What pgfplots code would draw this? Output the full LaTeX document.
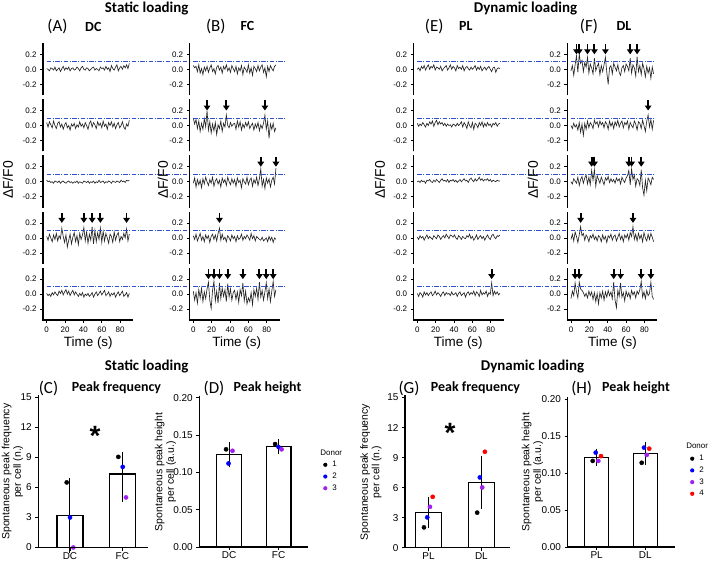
\documentclass[border=0pt]{standalone}
\usepackage{pgfplots}
\pgfplotsset{compat=1.18}
\usepackage{fontspec}
\setmainfont{Liberation Sans}
\newfontfamily\calib{Carlito}
\usetikzlibrary{arrows.meta}
\definecolor{bl}{RGB}{50,80,200}
\definecolor{dpurple}{RGB}{160,32,240}
\newcommand{\myfs}[1]{\fontsize{#1}{#1}\selectfont}
\pgfplotsset{
 trbase/.style={scale only axis, width=90bp, height=52.1bp, xmin=-4, xmax=94, ymin=-0.345, ymax=0.35, clip=false,
   axis y line*=left, axis x line*=bottom, ytick={-0.2,0,0.2}, yticklabels={-0.2,0.0,0.2},
   tick align=outside, major tick length=3bp, axis line style={line width=1.6bp, black},
   tick style={line width=0.8bp, black}, tick label style={font=\myfs{8}}},
 trhid/.style={trbase, x axis line style={draw=none}, xtick=\empty},
 trxax/.style={trbase, xtick={0,20,40,60,80}, xticklabels={0,20,40,60,80}},
 myaxl/.style={black, line width=1.6bp, line join=miter, forget plot, mark=none},
 myaxb/.style={black, line width=1.3bp, line join=miter, forget plot, mark=none},
 mytrl/.style={black!85, line width=0.65bp},
 mybll/.style={bl, line width=0.9bp, dash pattern=on 4.5bp off 1.5bp on 1bp off 1.5bp},
 myarr/.style={black, line width=1.8bp, -{Triangle[length=5bp,width=6.5bp]}, quiver={u=0,v=-0.135}},
 bpbase/.style={scale only axis, axis lines*=left, axis line style={line width=1.3bp, black}, tick align=outside,
   major tick length=3bp, tick style={line width=0.9bp, black}, tick label style={font=\myfs{10}},
   xtick={1,2}, ymin=0, clip=false, xticklabel style={inner sep=1.5bp}},
 mybar/.style={ybar, bar width=0.5, fill=white, draw=black, line width=1.2bp,
   error bars/y dir=both, error bars/y explicit, error bars/error bar style={line width=1bp, black},
   error bars/error mark options={line width=1bp, black, mark size=5bp}},
 mydot/.style={only marks, mark=*, mark size=2.1bp, draw=none, fill=#1, color=#1,
   legend image code/.code={\fill[#1] (0,0) circle (2.1bp);}},
 freqy/.style={ymax=15.2, height=152.2bp, ytick={0,3,6,9,12,15}, yticklabels={0,3,6,9,12,15}},
 hty/.style={ymax=0.203, ytick={0,0.05,0.1,0.15,0.2}, yticklabels={0.00,0.05,0.10,0.15,0.20}},
 myleg/.style={legend style={at={#1}, anchor=north west, draw=none, fill=none, font=\myfs{8}, inner sep=0pt,
   row sep=0pt, nodes={minimum height=11.7bp, inner sep=0pt}, cells={anchor=west},
   /tikz/every odd column/.append style={column sep=5bp}}},
}
\newcommand{\trace}[1]{\addplot[mytrl] table[row sep=\\, header=false, x expr=\coordindex*1.5, y index=0]{#1};}
\newcommand{\yaxisline}{\addplot[myaxl] coordinates {(-4,-0.345) (-4,0.35)};}
\newcommand{\xyaxisline}{\addplot[myaxl] coordinates {(-4,0.35) (-4,-0.345) (94,-0.345)};}
\begin{document}
\begin{tikzpicture}
\useasboundingbox (0,0) rectangle (709bp,564bp);
% ---------------- Column A (DC)
\begin{axis}[trhid, at={(43bp,468.8bp)}]
\yaxisline
\trace{0.01\\0.00\\-0.02\\0.02\\0.01\\-0.01\\0.03\\-0.02\\0.00\\0.02\\-0.03\\0.01\\0.04\\-0.01\\0.02\\0.00\\0.03\\-0.02\\0.01\\0.02\\-0.01\\0.00\\0.03\\0.01\\-0.02\\0.02\\0.04\\0.00\\-0.01\\0.02\\0.01\\-0.02\\0.00\\0.02\\0.03\\-0.01\\0.01\\0.00\\-0.02\\0.03\\0.01\\0.02\\-0.01\\0.04\\0.00\\0.02\\-0.03\\0.05\\0.01\\-0.01\\0.03\\0.06\\-0.02\\0.02\\0.04\\0.00\\0.05\\0.02\\0.06\\0.01\\0.08\\}
\addplot[mybll] coordinates {(0,0.1) (154,0.1)};
\end{axis}
\begin{axis}[trhid, at={(43bp,412.6bp)}]
\yaxisline
\trace{0.04\\-0.02\\0.05\\0.01\\-0.03\\0.06\\0.00\\-0.04\\0.03\\0.05\\-0.02\\0.02\\-0.05\\0.01\\0.04\\-0.03\\0.00\\-0.06\\0.02\\-0.01\\0.03\\-0.04\\0.01\\-0.02\\0.05\\-0.01\\0.02\\-0.03\\0.04\\0.00\\-0.05\\0.03\\0.06\\-0.02\\0.04\\0.01\\-0.04\\0.05\\0.00\\0.03\\-0.03\\0.06\\-0.01\\0.02\\-0.05\\0.04\\0.00\\0.05\\-0.02\\0.03\\-0.04\\0.01\\0.04\\-0.03\\0.00\\0.05\\-0.02\\-0.05\\0.02\\-0.01\\0.07\\}
\addplot[mybll] coordinates {(0,0.1) (154,0.1)};
\end{axis}
\begin{axis}[trhid, at={(43bp,356.4bp)}]
\yaxisline
\trace{0.02\\0.00\\0.01\\-0.01\\0.00\\-0.02\\0.01\\0.00\\-0.01\\0.01\\-0.02\\0.00\\0.01\\-0.01\\-0.02\\0.00\\0.01\\-0.01\\0.00\\-0.02\\0.00\\-0.01\\0.01\\-0.02\\0.00\\-0.01\\-0.02\\0.01\\0.00\\-0.01\\0.01\\-0.02\\0.00\\-0.01\\0.01\\-0.02\\0.00\\-0.01\\0.02\\-0.01\\0.00\\0.01\\-0.02\\0.00\\-0.01\\0.01\\0.00\\-0.02\\0.01\\0.00\\-0.01\\0.01\\0.00\\-0.01\\0.02\\0.00\\0.01\\-0.01\\0.02\\0.01\\0.02\\}
\addplot[mybll] coordinates {(0,0.1) (154,0.1)};
\end{axis}
\begin{axis}[trhid, at={(43bp,300.2bp)}]
\yaxisline
\trace{0.02\\-0.03\\0.05\\0.00\\-0.05\\0.04\\-0.02\\0.06\\-0.04\\0.03\\-0.01\\0.13\\0.02\\-0.06\\0.04\\-0.12\\-0.03\\0.05\\-0.08\\0.01\\0.07\\-0.05\\0.03\\-0.09\\0.06\\-0.02\\0.04\\0.14\\-0.04\\0.08\\-0.07\\0.05\\-0.03\\0.15\\-0.08\\0.10\\-0.05\\0.07\\-0.02\\0.13\\-0.06\\0.09\\-0.04\\0.06\\0.00\\-0.07\\0.05\\0.02\\-0.06\\0.08\\-0.03\\0.04\\0.07\\-0.05\\0.02\\-0.02\\0.06\\0.00\\0.12\\-0.04\\0.05\\}
\addplot[mybll] coordinates {(0,0.1) (154,0.1)};
\addplot[myarr] coordinates {(16.5,0.335) (40.5,0.335) (49.5,0.335) (58.5,0.335) (87,0.335)};
\end{axis}
\begin{axis}[trxax, at={(43bp,244bp)}]
\xyaxisline
\trace{0.01\\-0.02\\0.00\\-0.03\\0.02\\-0.01\\0.03\\0.00\\-0.02\\0.04\\0.01\\0.05\\-0.01\\0.03\\0.06\\0.00\\0.04\\-0.02\\0.02\\0.05\\-0.01\\0.03\\0.00\\-0.03\\0.01\\-0.02\\0.02\\-0.04\\0.00\\-0.02\\0.01\\-0.03\\-0.01\\0.02\\-0.04\\0.00\\0.03\\-0.02\\0.01\\0.04\\-0.01\\0.02\\0.05\\-0.02\\0.00\\0.03\\-0.03\\0.01\\-0.01\\0.02\\-0.04\\0.00\\0.03\\-0.02\\0.01\\0.04\\-0.03\\-0.01\\0.02\\-0.04\\0.01\\}
\addplot[mybll] coordinates {(0,0.1) (154,0.1)};
\end{axis}
% ---------------- Column B (FC)
\begin{axis}[trhid, at={(189.6bp,468.8bp)}]
\yaxisline
\trace{0.05\\0.02\\0.04\\-0.03\\0.06\\-0.05\\0.01\\-0.07\\0.03\\-0.02\\0.04\\-0.04\\0.02\\0.06\\-0.03\\0.01\\-0.06\\0.03\\0.05\\-0.01\\0.03\\-0.05\\0.04\\0.00\\0.06\\-0.02\\0.02\\-0.04\\0.05\\0.01\\-0.03\\0.04\\-0.06\\0.02\\-0.02\\0.05\\-0.07\\0.03\\0.00\\-0.04\\0.06\\-0.05\\0.02\\-0.08\\0.04\\0.01\\-0.03\\0.05\\-0.02\\0.03\\0.06\\-0.04\\0.02\\-0.10\\0.04\\-0.03\\0.05\\0.01\\-0.02\\0.04\\0.06\\}
\addplot[mybll] coordinates {(0,0.1) (100,0.1)};
\end{axis}
\begin{axis}[trhid, at={(189.6bp,412.6bp)}]
\yaxisline
\trace{0.10\\0.02\\0.08\\-0.04\\0.06\\-0.08\\0.03\\-0.05\\0.09\\-0.02\\0.20\\-0.06\\0.05\\-0.10\\0.02\\-0.07\\0.04\\-0.12\\0.01\\-0.04\\0.06\\-0.08\\0.03\\-0.02\\0.14\\0.00\\-0.03\\0.04\\-0.01\\0.02\\0.03\\-0.05\\0.06\\-0.02\\0.05\\-0.06\\0.02\\-0.03\\0.04\\-0.01\\0.05\\-0.04\\0.00\\0.03\\-0.06\\0.02\\-0.03\\0.04\\-0.07\\0.01\\-0.04\\0.03\\0.14\\-0.05\\0.06\\-0.17\\0.02\\-0.05\\0.03\\-0.08\\-0.03\\}
\addplot[mybll] coordinates {(0,0.1) (100,0.1)};
\addplot[myarr] coordinates {(15,0.335) (36,0.335) (78,0.335)};
\end{axis}
\begin{axis}[trhid, at={(189.6bp,356.4bp)}]
\yaxisline
\trace{-0.02\\0.05\\-0.07\\0.03\\-0.04\\0.02\\-0.08\\0.04\\-0.03\\0.06\\0.00\\-0.05\\0.03\\-0.02\\0.06\\-0.06\\0.01\\0.04\\-0.03\\0.02\\-0.07\\0.05\\-0.01\\0.03\\-0.05\\0.06\\0.00\\-0.04\\0.04\\-0.02\\0.03\\-0.06\\0.05\\-0.01\\0.02\\-0.08\\0.04\\0.00\\-0.03\\0.06\\-0.04\\0.02\\0.05\\-0.06\\0.03\\-0.02\\0.06\\-0.05\\0.04\\0.17\\-0.06\\0.03\\-0.09\\0.05\\-0.02\\0.04\\-0.07\\0.02\\0.06\\-0.03\\0.18\\}
\addplot[mybll] coordinates {(0,0.1) (100,0.1)};
\addplot[myarr] coordinates {(73.5,0.335) (90,0.335)};
\end{axis}
\begin{axis}[trhid, at={(189.6bp,300.2bp)}]
\yaxisline
\trace{0.03\\-0.02\\0.05\\-0.04\\0.01\\0.06\\-0.03\\0.02\\-0.05\\0.04\\-0.01\\0.03\\-0.06\\0.02\\0.05\\-0.02\\0.04\\-0.04\\0.06\\0.13\\-0.03\\0.05\\-0.02\\0.01\\-0.05\\0.03\\0.00\\-0.04\\0.04\\-0.01\\0.02\\-0.05\\0.03\\-0.02\\0.00\\0.05\\-0.03\\0.02\\-0.01\\0.04\\0.01\\-0.03\\0.06\\-0.01\\0.03\\-0.04\\0.02\\0.00\\-0.02\\-0.03\\0.01\\-0.04\\-0.02\\0.00\\-0.05\\0.02\\-0.03\\0.01\\-0.06\\0.00\\-0.02\\}
\addplot[mybll] coordinates {(0,0.1) (100,0.1)};
\addplot[myarr] coordinates {(28.5,0.335)};
\end{axis}
\begin{axis}[trxax, at={(189.6bp,244bp)}]
\xyaxisline
\trace{0.04\\-0.08\\0.02\\-0.12\\0.06\\-0.05\\0.08\\-0.10\\0.03\\-0.06\\0.07\\0.16\\-0.08\\-0.19\\0.05\\0.17\\-0.09\\0.04\\-0.12\\0.15\\-0.06\\0.08\\-0.03\\0.06\\-0.10\\0.14\\-0.04\\0.07\\-0.08\\0.02\\0.05\\-0.07\\0.03\\-0.11\\0.06\\-0.02\\0.15\\-0.09\\0.04\\-0.13\\-0.05\\-0.10\\0.02\\-0.14\\0.06\\-0.03\\0.08\\-0.07\\0.16\\-0.04\\0.05\\-0.08\\0.03\\0.15\\-0.06\\0.07\\-0.10\\0.04\\0.17\\-0.03\\0.06\\}
\addplot[mybll] coordinates {(0,0.1) (100,0.1)};
\addplot[myarr] coordinates {(16.5,0.335) (22.5,0.335) (28.5,0.335) (37.5,0.335) (54,0.335) (72,0.335) (79.5,0.335) (87,0.335)};
\end{axis}
% ---------------- Column E (PL)
\begin{axis}[trhid, at={(413.6bp,468.8bp)}]
\yaxisline
\trace{0.00\\0.02\\-0.02\\0.04\\0.01\\0.05\\-0.01\\0.03\\0.06\\0.00\\0.04\\0.02\\0.06\\-0.01\\0.03\\0.02\\0.00\\0.04\\-0.02\\0.01\\0.03\\0.05\\-0.01\\0.02\\0.06\\0.00\\0.04\\0.02\\-0.02\\0.05\\0.01\\0.03\\0.00\\0.05\\-0.02\\0.02\\0.04\\0.01\\-0.01\\0.03\\0.00\\0.02\\0.05\\-0.01\\0.03\\0.00\\0.04\\-0.02\\0.01\\0.03\\-0.01\\0.02\\0.04\\0.00\\-0.03\\0.02\\0.03\\-0.04\\0.01\\0.02\\0.01\\}
\addplot[mybll] coordinates {(0,0.1) (163,0.1)};
\end{axis}
\begin{axis}[trhid, at={(413.6bp,412.6bp)}]
\yaxisline
\trace{0.03\\-0.01\\0.02\\0.00\\0.04\\0.01\\-0.02\\0.03\\0.00\\0.05\\0.02\\0.06\\-0.01\\0.04\\0.07\\0.01\\0.05\\0.02\\0.04\\0.00\\0.03\\-0.01\\0.02\\0.00\\0.01\\-0.02\\0.02\\0.01\\-0.01\\0.03\\0.00\\0.02\\0.05\\-0.02\\0.04\\0.01\\-0.04\\0.05\\0.00\\-0.03\\0.04\\-0.05\\0.03\\0.01\\-0.03\\0.04\\0.00\\0.05\\-0.02\\0.03\\-0.01\\0.04\\0.00\\0.02\\-0.02\\0.03\\0.01\\0.04\\-0.01\\0.02\\0.03\\}
\addplot[mybll] coordinates {(0,0.1) (163,0.1)};
\end{axis}
\begin{axis}[trhid, at={(413.6bp,356.4bp)}]
\yaxisline
\trace{0.00\\0.01\\-0.01\\0.02\\0.00\\0.01\\-0.02\\0.02\\0.01\\0.03\\0.00\\-0.01\\0.02\\0.00\\0.03\\0.01\\-0.01\\0.02\\0.04\\0.01\\0.02\\0.00\\0.03\\-0.01\\0.02\\0.01\\0.03\\0.00\\0.02\\-0.01\\0.01\\0.03\\0.00\\0.02\\0.04\\0.01\\0.02\\-0.01\\0.03\\0.05\\0.02\\0.00\\0.04\\0.01\\0.03\\0.06\\0.02\\0.04\\0.01\\0.03\\0.02\\0.04\\0.01\\0.03\\0.00\\0.02\\0.01\\0.00\\0.02\\0.01\\0.01\\}
\addplot[mybll] coordinates {(0,0.1) (163,0.1)};
\end{axis}
\begin{axis}[trhid, at={(413.6bp,300.2bp)}]
\yaxisline
\trace{0.01\\-0.02\\0.03\\0.00\\0.02\\-0.03\\0.01\\0.04\\-0.01\\0.02\\0.00\\-0.02\\0.03\\0.01\\-0.01\\0.04\\0.02\\-0.02\\0.01\\0.03\\0.00\\0.05\\0.02\\-0.01\\0.04\\0.03\\0.01\\0.04\\0.00\\-0.02\\0.03\\0.01\\-0.02\\0.02\\0.00\\-0.01\\0.03\\0.01\\0.05\\-0.01\\0.02\\-0.03\\0.00\\0.04\\-0.02\\0.01\\0.03\\-0.01\\0.02\\-0.03\\0.01\\0.04\\0.00\\-0.02\\0.03\\0.05\\0.01\\-0.01\\0.03\\0.02\\0.04\\}
\addplot[mybll] coordinates {(0,0.1) (163,0.1)};
\end{axis}
\begin{axis}[trxax, at={(413.6bp,244bp)}]
\xyaxisline
\trace{0.01\\-0.03\\0.02\\0.00\\-0.04\\0.03\\-0.01\\0.02\\-0.02\\0.01\\0.03\\-0.02\\0.00\\0.04\\-0.01\\0.02\\0.00\\-0.03\\0.01\\0.03\\-0.02\\0.02\\0.00\\0.01\\-0.02\\0.03\\-0.01\\0.00\\0.02\\-0.03\\0.01\\0.03\\-0.02\\0.00\\0.02\\-0.04\\0.01\\0.03\\-0.01\\0.02\\0.00\\0.04\\-0.02\\0.03\\0.01\\-0.03\\0.05\\-0.01\\0.02\\0.00\\0.04\\-0.03\\0.02\\0.00\\0.15\\-0.02\\0.04\\0.00\\0.03\\-0.01\\0.01\\}
\addplot[mybll] coordinates {(0,0.1) (163,0.1)};
\addplot[myarr] coordinates {(81,0.335)};
\end{axis}
% ---------------- Column F (DL)
\begin{axis}[trhid, at={(567.3bp,468.8bp)}]
\yaxisline
\trace{-0.02\\0.05\\-0.08\\0.06\\0.18\\-0.04\\0.20\\0.08\\0.12\\-0.03\\0.09\\0.03\\0.16\\-0.05\\0.07\\0.02\\-0.06\\0.15\\-0.02\\0.04\\0.08\\-0.07\\0.05\\-0.03\\0.06\\0.16\\-0.04\\-0.20\\0.02\\0.05\\-0.06\\0.08\\0.03\\-0.02\\0.06\\-0.04\\-0.08\\0.02\\0.05\\-0.03\\0.07\\0.04\\-0.02\\0.15\\-0.05\\0.06\\0.02\\-0.09\\0.17\\-0.03\\0.05\\-0.07\\0.08\\0.01\\-0.10\\0.04\\-0.05\\0.02\\-0.12\\0.03\\-0.06\\}
\addplot[mybll] coordinates {(0,0.1) (92,0.1)};
\addplot[myarr] coordinates {(6,0.335) (9,0.335) (18,0.335) (25.5,0.335) (37.5,0.335) (64.5,0.335) (72,0.335)};
\end{axis}
\begin{axis}[trhid, at={(567.3bp,412.6bp)}]
\yaxisline
\trace{0.00\\-0.04\\0.03\\-0.02\\0.01\\-0.06\\0.04\\-0.09\\0.02\\-0.13\\0.03\\-0.05\\0.06\\-0.03\\0.04\\0.01\\-0.04\\0.07\\0.02\\0.05\\-0.02\\0.06\\0.01\\0.04\\-0.03\\0.05\\0.02\\-0.05\\0.06\\-0.01\\0.04\\-0.04\\0.05\\0.00\\0.07\\-0.02\\0.03\\0.06\\-0.03\\0.04\\0.01\\0.06\\-0.05\\0.04\\0.00\\-0.03\\0.06\\0.02\\-0.06\\0.05\\0.03\\-0.04\\0.07\\0.00\\-0.08\\0.06\\0.14\\-0.02\\0.08\\-0.05\\0.07\\}
\addplot[mybll] coordinates {(0,0.1) (92,0.1)};
\addplot[myarr] coordinates {(84,0.335)};
\end{axis}
\begin{axis}[trhid, at={(567.3bp,356.4bp)}]
\yaxisline
\trace{0.00\\-0.03\\0.04\\0.01\\-0.02\\0.06\\-0.05\\0.03\\0.07\\-0.02\\0.05\\0.09\\-0.03\\0.06\\-0.04\\0.15\\0.02\\0.16\\-0.06\\0.08\\0.03\\-0.02\\0.06\\0.01\\-0.04\\0.05\\0.02\\0.07\\-0.01\\0.04\\0.00\\0.03\\-0.02\\0.05\\0.01\\0.04\\-0.03\\0.06\\0.02\\-0.01\\0.05\\0.08\\0.15\\-0.04\\0.17\\0.03\\0.09\\-0.06\\0.04\\0.02\\-0.05\\0.16\\-0.08\\-0.18\\0.02\\-0.12\\0.05\\0.01\\-0.04\\0.06\\0.03\\}
\addplot[mybll] coordinates {(0,0.1) (92,0.1)};
\addplot[myarr] coordinates {(22.5,0.335) (25.5,0.335) (63,0.335) (66,0.335) (76.5,0.335)};
\end{axis}
\begin{axis}[trhid, at={(567.3bp,300.2bp)}]
\yaxisline
\trace{-0.02\\0.05\\-0.04\\0.08\\0.02\\-0.06\\0.04\\0.15\\0.03\\0.06\\-0.03\\0.04\\0.01\\-0.05\\0.03\\0.00\\0.05\\-0.02\\0.02\\-0.04\\0.03\\0.01\\-0.05\\0.04\\-0.02\\0.02\\-0.06\\0.03\\0.00\\0.05\\-0.03\\0.02\\0.04\\-0.04\\0.01\\0.06\\-0.02\\0.03\\-0.05\\0.04\\0.00\\0.05\\-0.03\\0.07\\0.02\\0.15\\-0.02\\0.05\\-0.04\\0.06\\-0.01\\0.04\\-0.05\\0.07\\0.00\\-0.04\\0.05\\-0.02\\0.06\\0.01\\-0.05\\}
\addplot[mybll] coordinates {(0,0.1) (92,0.1)};
\addplot[myarr] coordinates {(10.5,0.335) (67.5,0.335)};
\end{axis}
\begin{axis}[trxax, at={(567.3bp,244bp)}]
\xyaxisline
\trace{-0.06\\0.04\\-0.02\\0.15\\0.03\\-0.05\\0.16\\0.07\\0.05\\0.02\\-0.03\\0.01\\-0.05\\0.04\\-0.02\\0.03\\-0.07\\0.02\\-0.10\\0.01\\-0.13\\0.02\\-0.05\\0.04\\-0.08\\0.03\\-0.04\\0.05\\-0.02\\0.03\\-0.06\\0.16\\-0.08\\-0.18\\0.05\\-0.03\\0.15\\-0.04\\0.02\\-0.09\\0.04\\-0.03\\0.02\\-0.06\\0.05\\-0.01\\0.03\\-0.05\\0.04\\0.00\\0.06\\0.17\\-0.04\\0.03\\-0.06\\0.05\\-0.02\\0.01\\0.16\\-0.03\\-0.07\\}
\addplot[mybll] coordinates {(0,0.1) (92,0.1)};
\addplot[myarr] coordinates {(4.5,0.335) (9,0.335) (46.5,0.335) (54,0.335) (76.5,0.335) (87,0.335)};
\end{axis}
% ---------------- Bottom charts
\begin{axis}[bpbase, freqy, at={(38.3bp,16.5bp)}, width=110bp, xmin=0.394, xmax=2.497, xticklabels={DC,FC}]
\addplot[myaxb] coordinates {(0.394,15.2) (0.394,0) (2.497,0)};
\addplot[mybar] coordinates {(1,3.17) +- (0,3.25) (2,7.35) += (0,1.65) -= (0,2.3)};
\addplot[mydot=black] coordinates {(0.937,6.5) (1.924,9.05)};
\addplot[mydot=blue] coordinates {(1.0,3.0) (2.008,8.05)};
\addplot[mydot=dpurple] coordinates {(1.063,0.0) (2.071,5.0)};
\end{axis}
\begin{axis}[bpbase, hty, at={(199.3bp,17bp)}, width=109bp, height=151.4bp, xmin=0.4, xmax=2.6, xticklabels={DC,FC}, myleg={(1.135,0.66)}]
\addlegendimage{empty legend}
\addplot[myaxb] coordinates {(0.4,0.203) (0.4,0) (2.6,0)};
\addplot[forget plot, mybar] coordinates {(1,0.124) +- (0,0.0104) (2,0.1343) +- (0,0.0035)};
\addplot[mydot=black] coordinates {(0.94,0.131) (1.93,0.138)};
\addplot[mydot=blue] coordinates {(0.99,0.112) (2.0,0.134)};
\addplot[mydot=dpurple] coordinates {(1.07,0.129) (2.06,0.131)};
\legend{\hspace{-12bp}Donor,1,2,3}
\end{axis}
\begin{axis}[bpbase, freqy, at={(405bp,16.3bp)}, width=105bp, xmin=0.557, xmax=2.54, xticklabels={PL,DL}]
\addplot[myaxb] coordinates {(0.557,15.2) (0.557,0) (2.54,0)};
\addplot[mybar] coordinates {(1,3.5) +- (0,1.03) (2,6.53) +- (0,2.13)};
\addplot[mydot=black] coordinates {(0.915,2.03) (1.92,3.5)};
\addplot[mydot=blue] coordinates {(0.977,3.03) (1.97,7.02)};
\addplot[mydot=dpurple] coordinates {(1.028,4.08) (2.015,6.02)};
\addplot[mydot=red] coordinates {(1.08,5.08) (2.066,9.58)};
\end{axis}
\begin{axis}[bpbase, hty, at={(567.5bp,17bp)}, width=107bp, height=150bp, xmin=0.4, xmax=2.6, xticklabels={PL,DL}, myleg={(1.144,0.707)}]
\addlegendimage{empty legend}
\addplot[myaxb] coordinates {(0.4,0.203) (0.4,0) (2.6,0)};
\addplot[forget plot, mybar] coordinates {(1,0.121) +- (0,0.005) (2,0.1266) +- (0,0.0085)};
\addplot[mydot=black] coordinates {(0.918,0.1165) (1.926,0.114)};
\addplot[mydot=blue] coordinates {(0.98,0.1277) (1.973,0.1345)};
\addplot[mydot=dpurple] coordinates {(1.033,0.1165) (2.03,0.1246)};
\addplot[mydot=red] coordinates {(1.088,0.123) (2.08,0.1331)};
\legend{\hspace{-13bp}Donor,1,2,3,4}
\end{axis}
% ---------------- Axis lines (absolute)
\foreach \xx in {43,189.6,413.6,567.3} {
  \foreach \yy in {468.8,412.6,356.4,300.2} {\draw[black, line width=1.6bp] (\xx bp,\yy bp) -- (\xx bp,\yy bp+52.1bp);}
  \draw[black, line width=1.6bp, line join=miter] (\xx bp,296.1bp) -- (\xx bp,244bp) -- (\xx bp+90bp,244bp);
}
\draw[black, line width=1.3bp, line join=miter] (38.3bp,168.7bp) -- (38.3bp,16.5bp) -- (148.3bp,16.5bp);
\draw[black, line width=1.3bp, line join=miter] (199.3bp,168.4bp) -- (199.3bp,17bp) -- (308.3bp,17bp);
\draw[black, line width=1.3bp, line join=miter] (405bp,168.5bp) -- (405bp,16.3bp) -- (510bp,16.3bp);
\draw[black, line width=1.3bp, line join=miter] (567.5bp,167bp) -- (567.5bp,17bp) -- (674.5bp,17bp);
% ---------------- Texts
\node[font=\calib\bfseries\myfs{15}] at (146.7bp,555.5bp) {Static loading};
\node[font=\calib\bfseries\myfs{15}] at (525.5bp,555.5bp) {Dynamic loading};
\node[font=\calib\myfs{17}] at (57.5bp,537.3bp) {(A)};
\node[font=\calib\bfseries\myfs{14}] at (93.3bp,537.3bp) {DC};
\node[font=\calib\myfs{17}] at (215.8bp,538bp) {(B)};
\node[font=\calib\bfseries\myfs{14}] at (247.5bp,538bp) {FC};
\node[font=\calib\myfs{17}] at (434.2bp,538bp) {(E)};
\node[font=\calib\bfseries\myfs{14}] at (465.8bp,538bp) {PL};
\node[font=\calib\myfs{17}] at (589bp,538bp) {(F)};
\node[font=\calib\bfseries\myfs{14}] at (624bp,538bp) {DL};
\foreach \x in {8,163,380,533} {\node[rotate=90, font=\myfs{14}] at (\x bp,384bp) {ΔF/F0};}
\foreach \x in {88.3,236.7,458.3,612.5} {\node[font=\myfs{13.5}] at (\x bp,221bp) {Time (s)};}
\node[font=\calib\bfseries\myfs{15}] at (146.7bp,197.3bp) {Static loading};
\node[font=\calib\bfseries\myfs{15}] at (532.5bp,197.3bp) {Dynamic loading};
\node[font=\calib\myfs{17}] at (48.5bp,176bp) {(C)};
\node[font=\calib\bfseries\myfs{14}] at (116.5bp,176bp) {Peak frequency};
\node[font=\calib\myfs{17}] at (214bp,176bp) {(D)};
\node[font=\calib\bfseries\myfs{14}] at (267.5bp,176bp) {Peak height};
\node[font=\calib\myfs{17}] at (409bp,176bp) {(G)};
\node[font=\calib\bfseries\myfs{14}] at (475.5bp,176bp) {Peak frequency};
\node[font=\calib\myfs{17}] at (581.7bp,176bp) {(H)};
\node[font=\calib\bfseries\myfs{14}] at (636bp,176bp) {Peak height};
\node[rotate=90, align=center, inner sep=0pt, font=\fontsize{10.5}{11.6}\selectfont] at (12.5bp,92.3bp) {Spontaneous peak frequency\\per cell (n.)};
\node[rotate=90, align=center, inner sep=0pt, font=\fontsize{10.5}{11.6}\selectfont] at (165.5bp,92bp) {Spontaneous peak height\\per cell (a.u.)};
\node[rotate=90, align=center, inner sep=0pt, font=\fontsize{10.5}{11.6}\selectfont] at (371bp,92bp) {Spontaneous peak frequency\\per cell (n.)};
\node[rotate=90, align=center, inner sep=0pt, font=\fontsize{10.5}{11.6}\selectfont] at (532.5bp,92bp) {Spontaneous peak height\\per cell (a.u.)};
\node[font=\bfseries\myfs{28}] at (95bp,128.5bp) {*};
\node[font=\bfseries\myfs{28}] at (450bp,131bp) {*};
\end{tikzpicture}
\end{document}
